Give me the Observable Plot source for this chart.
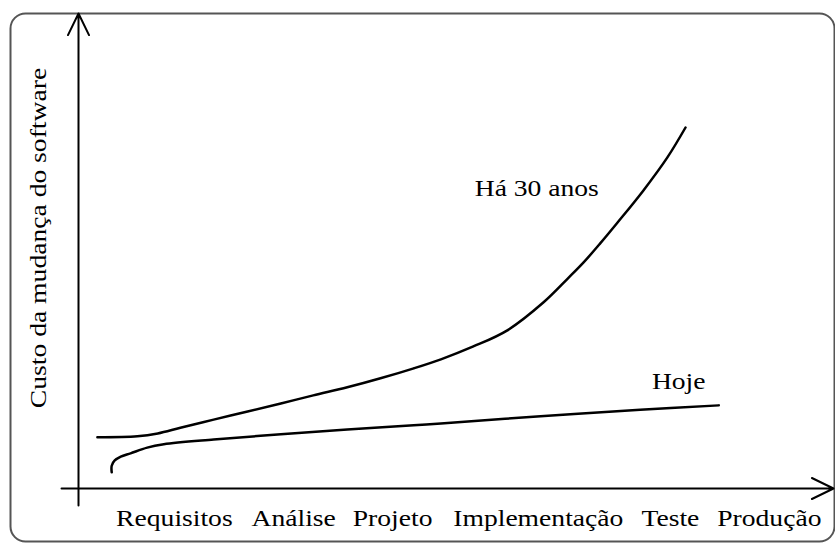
<!DOCTYPE html>
<html><head><meta charset="utf-8">
<script src="https://cdn.jsdelivr.net/npm/d3@7"></script>
<script src="https://cdn.jsdelivr.net/npm/@observablehq/plot@0.6"></script>
<style>
html,body{margin:0;padding:0;background:#fff;}
#chart svg, #chart svg text { font-family: "Liberation Serif", "Times New Roman", Times, serif !important; }
</style>
</head><body><div id="chart"></div>
<script>
// Stages along the horizontal axis (position in project-time units, 0–100)
const stages = ["Requisitos", "Análise", "Projeto", "Implementação", "Teste", "Produção"];
const stagePos = [12.7, 28.5, 41.6, 60.9, 78.4, 91.5];

// "Há 30 anos" curve (time, cost)
const antesX = [2.5, 7.8, 10.5, 13.5, 17.9, 22.4, 26.8, 31.1, 35.6, 40.0, 44.4, 48.0, 52.3, 56.8, 61.6, 64.8, 66.9, 69.1, 71.4, 74.8, 78.0, 80.4];
const antesY = [10.8, 11.0, 11.6, 12.8, 14.5, 16.2, 17.9, 19.6, 21.3, 23.2, 25.3, 27.2, 29.9, 33.3, 39.2, 44.2, 47.6, 51.6, 56.0, 62.7, 69.7, 76.0];

// "Hoje" curve (time, cost)
const hojeX = [4.4, 4.4, 4.8, 5.6, 6.9, 9.1, 11.3, 17.9, 26.8, 35.6, 44.4, 48.0, 61.2, 74.4, 84.8];
const hojeY = [3.4, 4.8, 5.9, 6.7, 7.4, 8.6, 9.3, 10.3, 11.4, 12.4, 13.3, 13.7, 15.2, 16.6, 17.5];

// Curve labels
const seriesNames = ["Há 30 anos", "Hoje"];
const seriesLabelX = [60.7, 79.5];
const seriesLabelY = [63.2, 22.5];

const axisTitle = "Custo da mudança do software";

// Axis extents (where the drawn axis lines start/end, in data units)
const xAxisFrom = -2.25, yAxisFrom = -3.6, axisTo = 100;

const fontFamily = '"Liberation Serif", "Times New Roman", Times, serif';
const stretch = 1.15;

const antes = antesX.map((x, i) => ({x, y: antesY[i]}));
const hoje = hojeX.map((x, i) => ({x, y: hojeY[i]}));
const labels = seriesNames.map((text, i) => ({text, x: seriesLabelX[i], y: seriesLabelY[i]}));
const stageName = new Map(stagePos.map((p, i) => [p, stages[i]]));
const axesLines = [
  {x1: xAxisFrom, y1: 0, x2: axisTo, y2: 0},
  {x1: 0, y1: yAxisFrom, x2: 0, y2: axisTo}
];

const chart = Plot.plot({
  width: 835,
  height: 543,
  marginLeft: 78,
  marginRight: 2,
  marginTop: 13,
  marginBottom: 55,
  x: {domain: [0, 100], label: null},
  y: {domain: [0, 100], axis: null, label: null},
  style: {fontFamily, fontSize: "24px", background: "white", color: "black", overflow: "visible"},
  marks: [
    Plot.frame({rx: 15, ry: 15, insetLeft: -68, insetRight: -1, insetBottom: -53, stroke: "#555", strokeWidth: 2}),
    Plot.arrow(axesLines, {x1: "x1", y1: "y1", x2: "x2", y2: "y2", stroke: "black", strokeWidth: 2, headLength: 18, headAngle: 52}),
    Plot.line(antes, {x: "x", y: "y", curve: "catmull-rom", stroke: "black", strokeWidth: 2.5}),
    Plot.line(hoje, {x: "x", y: "y", curve: "catmull-rom", stroke: "black", strokeWidth: 2.5}),
    Plot.text(labels, {x: "x", y: "y", text: "text", fontSize: 24, fontFamily, fill: "black"}),
    Plot.axisX(stagePos, {tickSize: 0, tickPadding: 20, tickFormat: d => stageName.get(d), fontSize: 24, fontFamily, label: null, fill: "black"}),
    Plot.text([axisTitle], {frameAnchor: "left", textAnchor: "middle", lineAnchor: "middle", rotate: -90, dx: -40, dy: -13, fontSize: 24, fontFamily, fill: "black"})
  ]
});

document.getElementById("chart").append(chart);
d3.select(chart).selectAll("text").each(function() {
  const b = this.getBBox();
  const cx = b.x + b.width / 2;
  const t = this.getAttribute("transform") || "";
  this.setAttribute("transform", `${t} translate(${cx},0) scale(${stretch},1) translate(${-cx},0)`);
});
</script>
</body></html>
